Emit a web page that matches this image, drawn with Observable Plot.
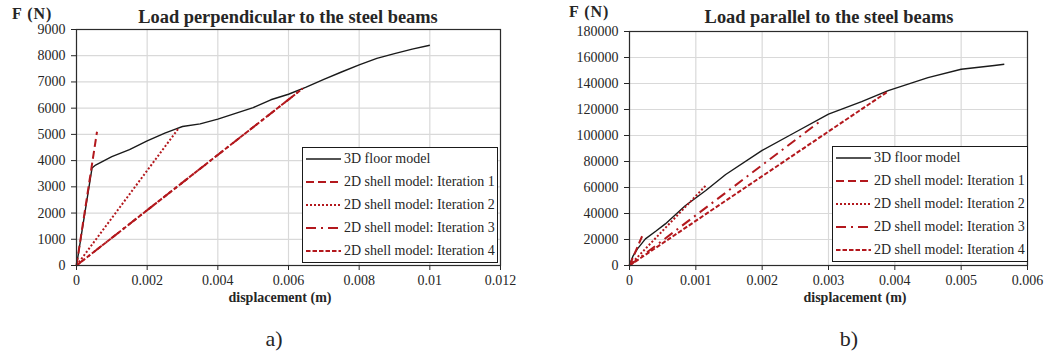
<!DOCTYPE html>
<html>
<head>
<meta charset="utf-8">
<script src="https://cdn.jsdelivr.net/npm/d3@7"></script>
<script src="https://cdn.jsdelivr.net/npm/@observablehq/plot@0.6"></script>
<style>
  html, body { margin: 0; padding: 0; background: #fff; }
  #wrap { position: relative; width: 1049px; height: 355px; font-family: "Liberation Serif", "Times New Roman", serif; color: #262626; }
  #wrap > svg, #wrap > .plot { position: absolute; top: 0; }
  .lbl { position: absolute; white-space: nowrap; line-height: 1; }
  .bold { font-weight: bold; }
  .center { transform: translateX(-50%); }
  .legend { position: absolute; background: #fff; border: 1px solid #1a1a1a; box-sizing: border-box; }
  .legend .row { position: absolute; left: 0; height: 20px; display: flex; align-items: center; font-size: 14px; white-space: nowrap; }
  .legend svg { margin-left: 3px; margin-right: 3px; }
</style>
</head>
<body>
<div id="wrap"></div>
<script>
// ---- Load perpendicular to the steel beams ----
const perpDispTicks = [0, 0.002, 0.004, 0.006, 0.008, 0.01, 0.012];
const perpForceTicks = [0, 1000, 2000, 3000, 4000, 5000, 6000, 7000, 8000, 9000];
const perpFloorDisp = [0, 0.00044, 0.00054, 0.001, 0.0015, 0.002, 0.0025, 0.0028, 0.003, 0.0035, 0.004, 0.0045, 0.005, 0.0055, 0.006, 0.0065, 0.007, 0.0075, 0.008, 0.0085, 0.009, 0.0095, 0.01];
const perpFloorForce = [0, 3720, 3830, 4150, 4420, 4750, 5050, 5200, 5300, 5400, 5580, 5800, 6020, 6320, 6530, 6800, 7100, 7380, 7650, 7900, 8080, 8250, 8400];
const perpIter1Disp = [0, 0.00058], perpIter1Force = [0, 5100];
const perpIter2Disp = [0, 0.0029], perpIter2Force = [0, 5250];
const perpIter3Disp = [0, 0.0064], perpIter3Force = [0, 6750];
const perpIter4Disp = [0, 0.0064], perpIter4Force = [0, 6750];

// ---- Load parallel to the steel beams ----
const parDispTicks = [0, 0.001, 0.002, 0.003, 0.004, 0.005, 0.006];
const parForceTicks = [0, 20000, 40000, 60000, 80000, 100000, 120000, 140000, 160000, 180000];
const parFloorDisp = [0, 0.00005, 0.00012, 0.00024, 0.0004, 0.00054, 0.00084, 0.00115, 0.00145, 0.002, 0.0025, 0.003, 0.0035, 0.0039, 0.0045, 0.005, 0.0055, 0.00565];
const parFloorForce = [0, 7000, 12800, 20500, 26500, 32000, 46000, 57700, 70000, 88500, 102500, 116500, 126000, 134500, 144500, 151000, 153800, 154800];
const parIter1Disp = [0, 0.00019], parIter1Force = [0, 22500];
const parIter2Disp = [0, 0.00115], parIter2Force = [0, 61500];
const parIter3Disp = [0, 0.0029], parIter3Force = [0, 112000];
const parIter4Disp = [0, 0.0039], parIter4Force = [0, 134000];

const seriesNames = ["3D floor model", "2D shell model: Iteration 1", "2D shell model: Iteration 2", "2D shell model: Iteration 3", "2D shell model: Iteration 4"];
const RED = "#b3181d";
const seriesStyles = [
  {stroke: "#1a1a1a", strokeWidth: 1.4, dash: null},
  {stroke: RED, strokeWidth: 2, dash: "8,4"},
  {stroke: RED, strokeWidth: 2, dash: "2,2"},
  {stroke: RED, strokeWidth: 2, dash: "10,5,2,5"},
  {stroke: RED, strokeWidth: 2, dash: "4.5,2"}
];

const rows = (xs, ys) => xs.map((d, i) => ({d, f: ys[i]}));

function lineChart({width, marginLeft, marginRight, marginTop, xTicks, yTicks, series}) {
  return Plot.plot({
    width,
    height: 310,
    marginLeft,
    marginRight,
    marginTop,
    marginBottom: 45,
    style: {fontFamily: "'Liberation Serif', 'Times New Roman', serif", fontSize: "14px", color: "#262626", background: "transparent", overflow: "visible"},
    x: {domain: [xTicks[0], xTicks[xTicks.length - 1]], label: null},
    y: {domain: [yTicks[0], yTicks[yTicks.length - 1]], label: null},
    marks: [
      Plot.gridX(xTicks, {stroke: "#d9d9d9", strokeOpacity: 1, strokeWidth: 1.2}),
      Plot.gridY(yTicks, {stroke: "#d9d9d9", strokeOpacity: 1, strokeWidth: 1.2}),
      Plot.axisX(xTicks, {tickSize: 5, tickPadding: 5, tickFormat: d3.format("~g"), label: null, fontSize: 14}),
      Plot.axisY(yTicks, {tickSize: 5, tickPadding: 6, tickFormat: d => String(d), label: null, fontSize: 14}),
      ...series.map((s, i) => Plot.line(s, {
        x: "d", y: "f",
        stroke: seriesStyles[i].stroke,
        strokeWidth: seriesStyles[i].strokeWidth,
        strokeDasharray: seriesStyles[i].dash,
        strokeLinecap: "butt"
      })),
      Plot.frame({stroke: "#2b2b2b", strokeWidth: 1.2})
    ]
  });
}

function legend(left, top) {
  const box = document.createElement("div");
  box.className = "legend";
  Object.assign(box.style, {left: left + "px", top: top + "px", width: "196px", height: "116px"});
  seriesNames.forEach((name, i) => {
    const r = document.createElement("div");
    r.className = "row";
    r.style.top = (1 + i * 23) + "px";
    const st = seriesStyles[i];
    const svg = d3.create("svg").attr("width", 35).attr("height", 6);
    svg.append("line").attr("x1", 0).attr("x2", 35).attr("y1", 3).attr("y2", 3)
      .attr("stroke", st.stroke).attr("stroke-width", st.strokeWidth)
      .attr("stroke-dasharray", st.dash);
    r.appendChild(svg.node());
    const t = document.createElement("span");
    t.textContent = name;
    r.appendChild(t);
    box.appendChild(r);
  });
  return box;
}

function label(text, x, top, size, opts = {}) {
  const el = document.createElement("div");
  el.className = "lbl" + (opts.bold ? " bold" : "") + (opts.center ? " center" : "");
  el.textContent = text;
  Object.assign(el.style, {left: x + "px", top: top + "px", fontSize: size + "px"});
  if (opts.spacing) el.style.letterSpacing = opts.spacing + "px";
  return el;
}

const wrap = document.getElementById("wrap");

const left = lineChart({
  width: 524, marginLeft: 76, marginRight: 24, marginTop: 29,
  xTicks: perpDispTicks, yTicks: perpForceTicks,
  series: [
    rows(perpFloorDisp, perpFloorForce),
    rows(perpIter1Disp, perpIter1Force),
    rows(perpIter2Disp, perpIter2Force),
    rows(perpIter3Disp, perpIter3Force),
    rows(perpIter4Disp, perpIter4Force)
  ]
});
left.style.left = "0px";
wrap.appendChild(left);

const right = lineChart({
  width: 525, marginLeft: 105, marginRight: 22, marginTop: 31,
  xTicks: parDispTicks, yTicks: parForceTicks,
  series: [
    rows(parFloorDisp, parFloorForce),
    rows(parIter1Disp, parIter1Force),
    rows(parIter2Disp, parIter2Force),
    rows(parIter3Disp, parIter3Force),
    rows(parIter4Disp, parIter4Force)
  ]
});
right.style.left = "524px";
wrap.appendChild(right);

wrap.appendChild(legend(302, 147));
wrap.appendChild(legend(832, 146));

wrap.appendChild(label("Load perpendicular to the steel beams", 288, 7.6, 18.4, {bold: true, center: true}));
wrap.appendChild(label("Load parallel to the steel beams", 829, 7.6, 18.4, {bold: true, center: true}));
wrap.appendChild(label("F (N)", 12, 6, 16, {bold: true, spacing: 1}));
wrap.appendChild(label("F (N)", 569, 4, 16, {bold: true, spacing: 1}));
wrap.appendChild(label("displacement (m)", 280, 291.3, 14, {bold: true, center: true}));
wrap.appendChild(label("displacement (m)", 855, 291.3, 14, {bold: true, center: true}));
wrap.appendChild(label("a)", 274, 327.6, 22, {center: true}));
wrap.appendChild(label("b)", 849, 327.6, 22, {center: true}));
</script>
</body>
</html>
